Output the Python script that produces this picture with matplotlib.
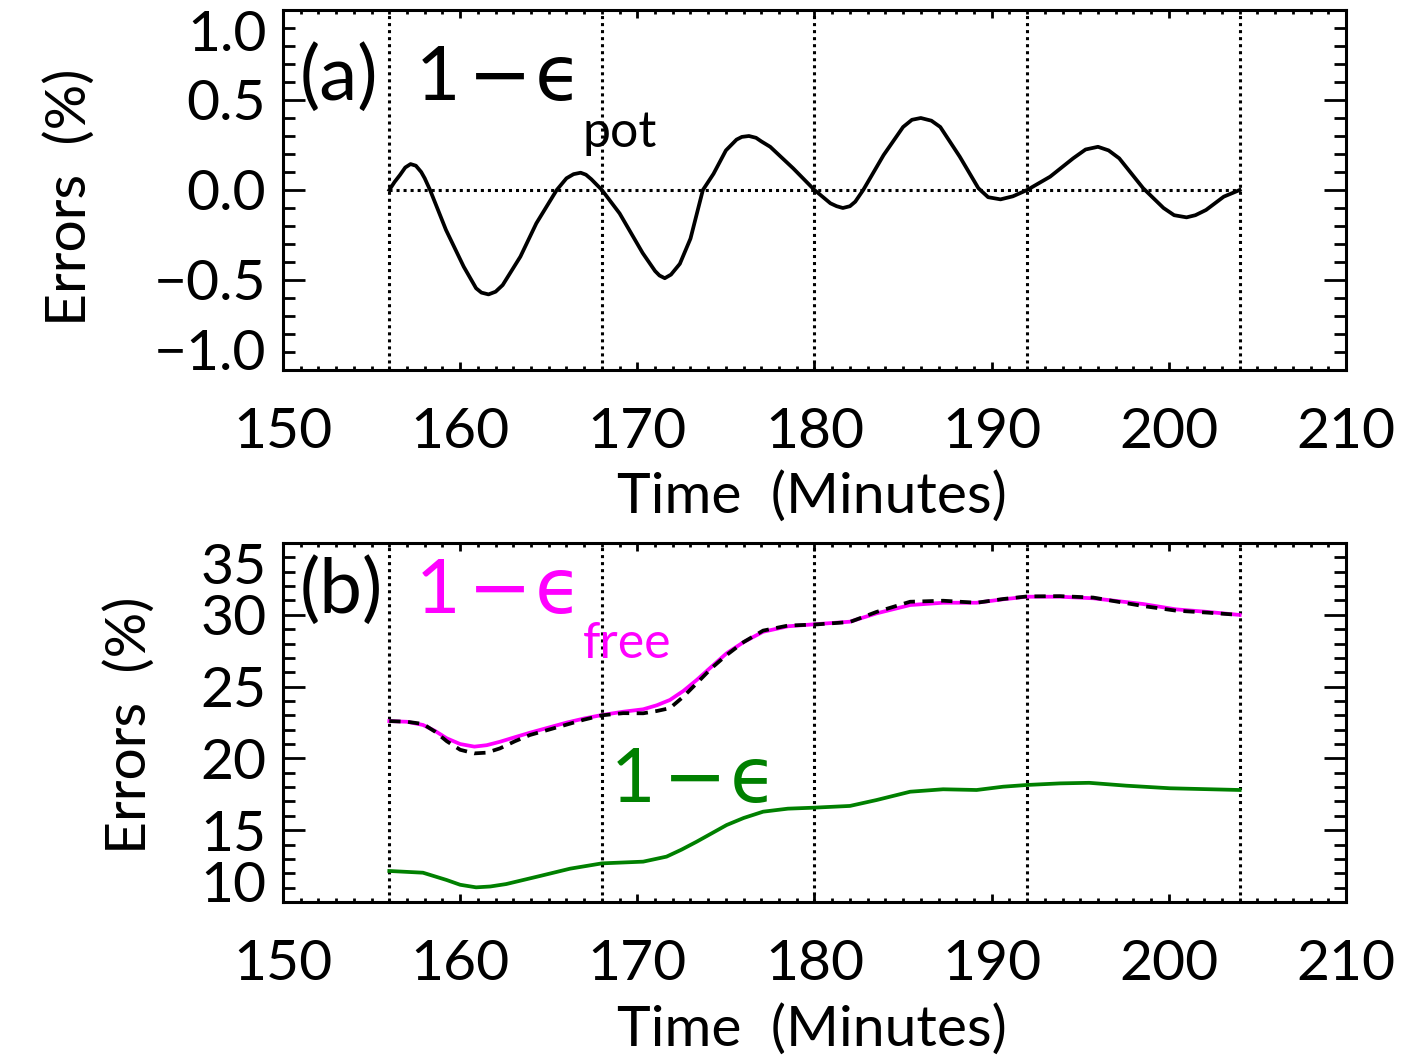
import numpy as np
import matplotlib
matplotlib.use('Agg')
import matplotlib.pyplot as plt
from matplotlib.ticker import MultipleLocator

plt.rcParams['font.family'] = ['Lato', 'DejaVu Sans']

# panel (a): 1 - eps_pot (%)
t_pot = [156.0, 156.3, 156.6, 156.9, 157.2, 157.5, 157.8, 158.0, 158.3, 159.2,
         160.2, 160.9, 161.2, 161.6, 162.0, 162.4, 163.4, 164.3, 165.45, 166.0,
         166.4, 166.8, 167.1, 167.4, 168.0, 169.0, 170.3, 171.0, 171.25, 171.55,
         171.9, 172.4, 173.0, 173.7, 174.3, 175.0, 175.6, 175.9, 176.3, 176.7,
         177.0, 177.5, 178.8, 180.0, 180.9, 181.25, 181.6, 182.0, 182.3, 182.75,
         183.9, 185.0, 185.5, 186.0, 186.6, 187.1, 188.2, 189.25, 189.8, 190.5,
         191.2, 192.0, 193.3, 194.6, 195.3, 196.0, 196.6, 197.2, 198.55, 199.7,
         200.3, 201.0, 201.5, 202.1, 203.1, 204.0]
err_pot = [0.0, 0.045, 0.083, 0.125, 0.144, 0.135, 0.10, 0.065, 0.0, -0.222,
           -0.426, -0.546, -0.57, -0.58, -0.565, -0.528, -0.37, -0.185, 0.0, 0.065,
           0.088, 0.096, 0.085, 0.06, 0.0, -0.13, -0.35, -0.45, -0.475, -0.49,
           -0.47, -0.41, -0.27, 0.0, 0.09, 0.22, 0.28, 0.295, 0.30, 0.29,
           0.27, 0.24, 0.12, 0.0, -0.074, -0.09, -0.10, -0.09, -0.065, 0.0,
           0.194, 0.35, 0.39, 0.40, 0.385, 0.35, 0.185, 0.01, -0.04, -0.052,
           -0.035, 0.0, 0.074, 0.176, 0.225, 0.24, 0.22, 0.176, 0.01, -0.10,
           -0.14, -0.152, -0.14, -0.111, -0.037, 0.0]

# panel (b): 1 - eps_free (magenta), reference (black dashed)
t_free = [156.0, 157.0, 157.9, 158.6, 159.24, 160.0, 160.8, 161.5, 162.25, 163.1,
          163.94, 165.0, 166.0, 167.0, 168.0, 169.2, 170.33, 171.1, 171.84, 172.6,
          173.35, 174.2, 175.04, 176.0, 177.1, 178.5, 180.0, 182.0, 183.5, 185.4,
          187.26, 189.15, 190.65, 192.0, 193.85, 195.73, 198.55, 200.4, 202.2, 204.0]
err_free = [22.6, 22.55, 22.33, 21.9, 21.4, 21.0, 20.82, 20.92, 21.16, 21.48,
            21.79, 22.15, 22.49, 22.78, 23.02, 23.25, 23.42, 23.7, 24.07, 24.7,
            25.46, 26.4, 27.32, 28.1, 28.82, 29.2, 29.34, 29.52, 30.1, 30.68,
            30.84, 30.84, 31.08, 31.26, 31.26, 31.15, 30.75, 30.38, 30.2, 29.99]
err_free_ref = [22.6, 22.55, 22.4, 21.85, 21.2, 20.6, 20.35, 20.4, 20.7, 21.2,
                21.63, 22.0, 22.35, 22.7, 23.0, 23.15, 23.14, 23.3, 23.5, 24.3,
                25.23, 26.3, 27.2, 28.1, 28.9, 29.25, 29.32, 29.5, 30.2, 30.91,
                30.98, 30.84, 31.1, 31.28, 31.3, 31.2, 30.61, 30.29, 30.15, 29.99]

# panel (b): 1 - eps (green)
t_eps = [156.0, 157.9, 159.24, 160.0, 160.9, 161.7, 162.6, 164.5, 166.2, 168.0,
         170.33, 171.65, 172.5, 173.35, 175.04, 176.0, 177.1, 178.5, 180.0, 182.0,
         183.5, 185.4, 187.26, 189.15, 190.65, 192.0, 193.85, 195.5, 197.6, 200.06,
         204.0]
err_eps = [12.16, 12.04, 11.53, 11.2, 11.02, 11.08, 11.25, 11.81, 12.32, 12.69,
           12.81, 13.16, 13.65, 14.2, 15.36, 15.85, 16.29, 16.5, 16.57, 16.69,
           17.1, 17.68, 17.85, 17.8, 18.03, 18.15, 18.26, 18.3, 18.1, 17.92,
           17.8]

marks = [156, 168, 180, 192, 204]
xticks = [150, 160, 170, 180, 190, 200, 210]

W, H = 1417, 1063
fig = plt.figure(figsize=(W / 100, H / 100), dpi=100)

def px(x0, y0, x1, y1):
    return [x0 / W, 1 - y1 / H, (x1 - x0) / W, (y1 - y0) / H]

ax1 = fig.add_axes(px(283, 10, 1346, 370))
ax2 = fig.add_axes(px(283, 543, 1346, 902))

dot = (0, (1, 1.3))
magenta = '#ff00ff'
green = '#008000'
tick_fs = 41
big_fs = 55
sub_fs = 36

for ax, ymaj, ymin in [(ax1, 0.5, 0.1), (ax2, 5, 1)]:
    ax.set_xlim(150, 210)
    ax.set_xticks(xticks)
    ax.xaxis.set_minor_locator(MultipleLocator(1))
    ax.yaxis.set_major_locator(MultipleLocator(ymaj))
    ax.yaxis.set_minor_locator(MultipleLocator(ymin))
    ax.tick_params(axis='both', which='both', direction='in', top=True, right=True,
                   width=2.0, labelsize=tick_fs)
    ax.tick_params(axis='x', which='major', length=6, pad=27)
    ax.tick_params(axis='x', which='minor', length=3)
    ax.tick_params(axis='y', which='major', length=16, pad=12)
    ax.tick_params(axis='y', which='minor', length=8.5)
    for s in ax.spines.values():
        s.set_linewidth(2.2)
    for m in marks:
        ax.axvline(m, color='black', lw=2.2, ls=dot, dash_capstyle='butt')

# panel (a)
ax1.set_ylim(-1, 1)
ax1.set_yticks([-1.0, -0.5, 0.0, 0.5, 1.0])
ax1.set_yticklabels(['\u22121.0', '\u22120.5', '0.0', '0.5', '1.0'])
ax1.plot([156, 204], [0, 0], color='black', lw=2.2, ls=dot, dash_capstyle='butt')
ax1.plot(t_pot, err_pot, color='black', lw=2.7, solid_joinstyle='round')

# panel (b)
ax2.set_ylim(10, 35)
ax2.set_yticks([10, 15, 20, 25, 30, 35])
ax2.plot(t_eps, err_eps, color=green, lw=2.7, solid_joinstyle='round')
ax2.plot(t_free, err_free, color=magenta, lw=2.7, solid_joinstyle='round')
ax2.plot(t_free, err_free_ref, color='black', lw=2.7, ls=(0, (3.0, 2.0)))

for ax in (ax1, ax2):
    labs = ax.get_yticklabels()
    labs[0].set_va('baseline')
    labs[-1].set_va('top')

# annotations: "1" in Lato, long minus and epsilon in DejaVu Sans
def one_minus_eps(ax, x, y, color, sub=None, sub_y=None):
    kw = dict(transform=ax.transAxes, fontsize=big_fs, va='baseline', color=color)
    ax.text(x, y, '1', **kw)
    ax.text(x + 0.049, y, '\u2212', family='DejaVu Sans', **kw)
    ax.text(x + 0.112, y, '\u03f5', family='DejaVu Sans', **kw)
    if sub:
        ax.text(0.282, sub_y, sub, transform=ax.transAxes, fontsize=sub_fs,
                va='baseline', color=color)

ax1.text(0.016, 0.75, '(a)', transform=ax1.transAxes, fontsize=big_fs, va='baseline')
one_minus_eps(ax1, 0.125, 0.75, 'black', 'pot', 0.619)

ax2.text(0.016, 0.805, '(b)', transform=ax2.transAxes, fontsize=big_fs, va='baseline')
one_minus_eps(ax2, 0.125, 0.805, magenta, 'free', 0.68)
one_minus_eps(ax2, 0.3086, 0.279, green)

fig.text(70 / W, 1 - 197 / H, 'Errors  (%)', rotation=90, fontsize=tick_fs,
         ha='center', va='center')
fig.text(130 / W, 1 - 725 / H, 'Errors  (%)', rotation=90, fontsize=tick_fs,
         ha='center', va='center')
fig.text(812 / W, 1 - 497 / H, 'Time  (Minutes)', fontsize=tick_fs,
         ha='center', va='center')
fig.text(812 / W, 1 - 1030 / H, 'Time  (Minutes)', fontsize=tick_fs,
         ha='center', va='center')

fig.savefig('out.png', dpi=100)
